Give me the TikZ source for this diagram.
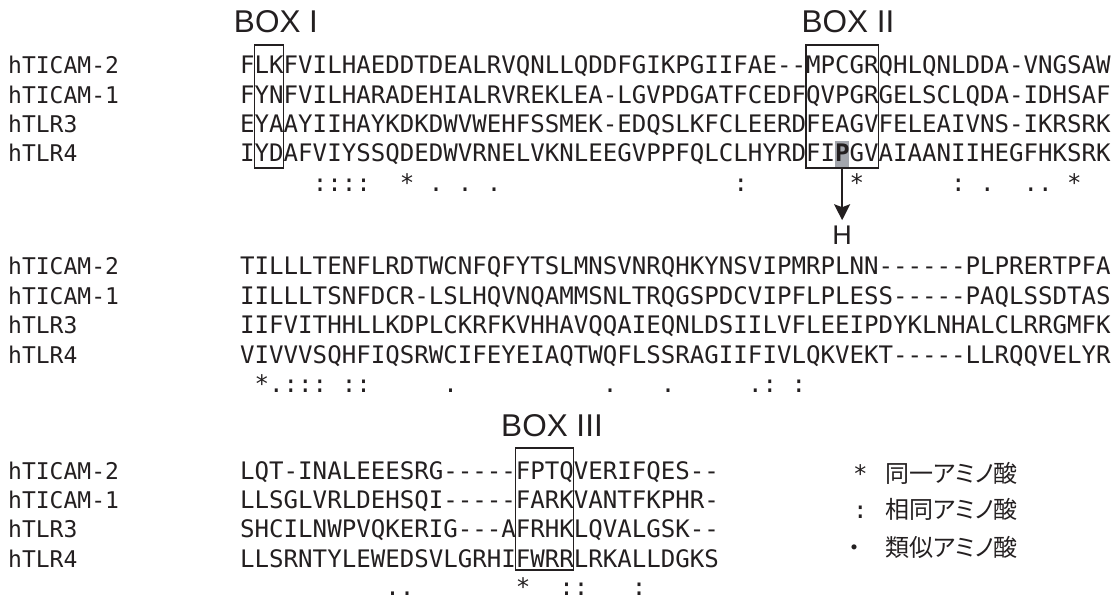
\documentclass[tikz,border=0pt]{standalone}
\usepackage{fontspec}
\setmonofont{DejaVu Sans Mono}
\newfontfamily\boxfont{Liberation Sans}
\newfontfamily\jpfont[RawFeature=+palt]{Noto Sans CJK JP}
\usetikzlibrary{arrows.meta}
\definecolor{ink}{HTML}{231F20}
\definecolor{hlgray}{HTML}{A3A6AD}
\tikzset{
  seq/.style={font=\ttfamily\fontsize{24.1}{24}\selectfont\frenchspacing, anchor=base west, inner sep=0pt, text=ink},
  seqname/.style={font=\ttfamily\fontsize{23}{24}\selectfont, anchor=base west, inner sep=0pt, text=ink},
  boxlbl/.style={font=\boxfont\fontsize{31.5}{31.5}\selectfont, anchor=base, inner sep=0pt, text=ink},
  motif/.style={draw=ink, line width=1.5pt},
  jp/.style={font=\jpfont\fontsize{24}{24}\selectfont, anchor=base west, inner sep=0pt, text=ink},
}
\begin{document}
\begin{tikzpicture}[x=1pt,y=-1pt]
\useasboundingbox (0,0) rectangle (1113,601);
% ---------- block 1 ----------
\fill[hlgray] (240+41*14.509,141) rectangle (240+42*14.509,167);
\node[seqname] (l1a) at (8,74) {hTICAM-2};
\node[seqname] (l1b) at (8,103.3) {hTICAM-1};
\node[seqname] (l1c) at (8,132.7) {hTLR3};
\node[seqname] (l1d) at (8,162) {hTLR4};
\node[seq] (s1a) at (240,74) {FLKFVILHAEDDTDEALRVQNLLQDDFGIKPGIIFAE--MPCGRQHLQNLDDA-VNGSAW};
\node[seq] (s1b) at (240,103.3) {FYNFVILHARADEHIALRVREKLEA-LGVPDGATFCEDFQVPGRGELSCLQDA-IDHSAF};
\node[seq] (s1c) at (240,132.7) {EYAAYIIHAYKDKDWVWEHFSSMEK-EDQSLKFCLEERDFEAGVFELEAIVNS-IKRSRK};
\node[seq] (s1d) at (240,162) {IYDAFVIYSSQDEDWVRNELVKNLEEGVPPFQLCLHYRDFI\textbf{P}GVAIAANIIHEGFHKSRK};
\node[seq] (c1) at (240,192) {~~~~~::::~~*~.~.~.~~~~~~~~~~~~~~~~:~~~~~~~*~~~~~~:~.~~..~*};
\draw[motif] (240+1*14.509,45) rectangle (240+3*14.509,168);
\draw[motif] (240+39*14.509,45) rectangle (240+44*14.509,168);
\node[boxlbl] (bx1) at (276,33) {BOX I};
\node[boxlbl] (bx2) at (848,33) {BOX II};
\coordinate (arrS) at (240+41.5*14.509,168);
\node[font=\boxfont\fontsize{27}{27}\selectfont, anchor=base, inner sep=0pt, text=ink] (H) at (240+41.5*14.509,245) {H};
\draw[ink, line width=1.5pt, -{Stealth[length=16pt,width=16pt,inset=3pt]}, shorten >=6pt] (arrS) -- (H.north);
% ---------- block 2 ----------
\node[seqname] (l2a) at (8,275) {hTICAM-2};
\node[seqname] (l2b) at (8,304.5) {hTICAM-1};
\node[seqname] (l2c) at (8,334) {hTLR3};
\node[seqname] (l2d) at (8,363) {hTLR4};
\node[seq] (s2a) at (240,275) {TILLLTENFLRDTWCNFQFYTSLMNSVNRQHKYNSVIPMRPLNN------PLPRERTPFA};
\node[seq] (s2b) at (240,304.5) {IILLLTSNFDCR-LSLHQVNQAMMSNLTRQGSPDCVIPFLPLESS-----PAQLSSDTAS};
\node[seq] (s2c) at (240,334) {IIFVITHHLLKDPLCKRFKVHHAVQQAIEQNLDSIILVFLEEIPDYKLNHALCLRRGMFK};
\node[seq] (s2d) at (240,363) {VIVVVSQHFIQSRWCIFEYEIAQTWQFLSSRAGIIFIVLQKVEKT-----LLRQQVELYR};
\node[seq] (c2) at (240,392) {~*.:::~::~~~~~.~~~~~~~~~~.~~~.~~~~~.:~:};
% ---------- block 3 ----------
\node[seqname] (l3a) at (8,479) {hTICAM-2};
\node[seqname] (l3b) at (8,508.3) {hTICAM-1};
\node[seqname] (l3c) at (8,537.7) {hTLR3};
\node[seqname] (l3d) at (8,567) {hTLR4};
\node[seq] (s3a) at (240,479) {LQT-INALEEESRG-----FPTQVERIFQES--};
\node[seq] (s3b) at (240,508.3) {LLSGLVRLDEHSQI-----FARKVANTFKPHR-};
\node[seq] (s3c) at (240,537.7) {SHCILNWPVQKERIG---AFRHKLQVALGSK--};
\node[seq] (s3d) at (240,567) {LLSRNTYLEWEDSVLGRHIFWRRLRKALLDGKS};
\node[seq] (c3) at (240,595) {~~~~~~~~~~..~~~~~~~*~~::~~~:};
\draw[motif] (240+19*14.509,448) rectangle (240+23*14.509,570);
\node[boxlbl] (bx3) at (552,436) {BOX III};
% ---------- legend ----------
\node[seq] (k1) at (853,482) {*};
\node[jp] (t1) at (885,482) {同一アミノ酸};
\node[seq] (k2) at (853,518) {:};
\node[jp] (t2) at (885,518) {相同アミノ酸};
\node[jp] (k3) at (848,556) {・};
\node[jp] (t3) at (885,556) {類似アミノ酸};
\end{tikzpicture}
\end{document}
